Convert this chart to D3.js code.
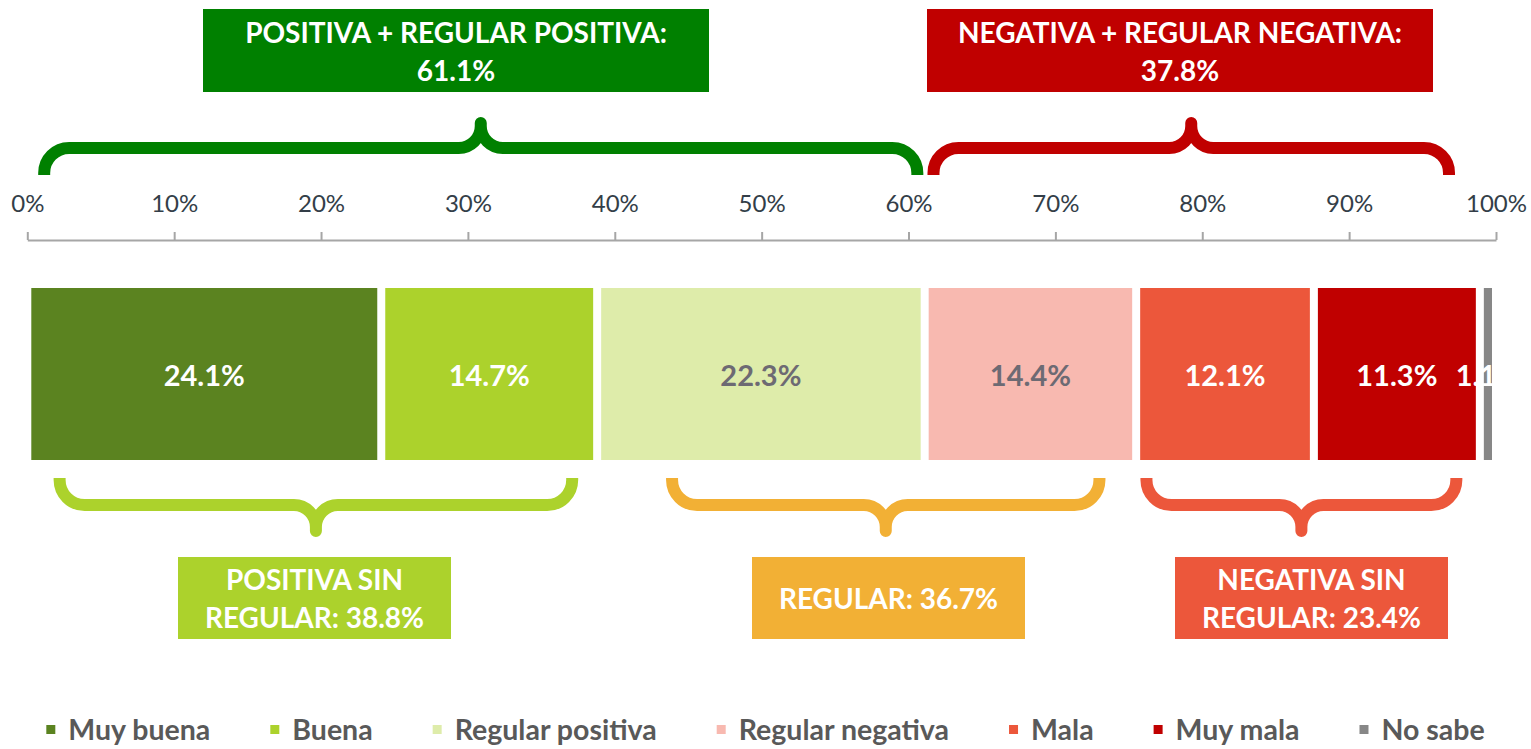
<!DOCTYPE html>
<html>
<head>
<meta charset="utf-8">
<script src="https://cdn.jsdelivr.net/npm/d3@7"></script>
<style>
  html, body { margin: 0; padding: 0; background: #fff; }
  svg { display: block; font-family: "Lato", "Open Sans", sans-serif; }
</style>
</head>
<body>
<svg id="chart" width="1531" height="749"></svg>
<script>
// ---------------- DATA ----------------
const categories = ["Muy buena", "Buena", "Regular positiva", "Regular negativa", "Mala", "Muy mala", "No sabe"];
const values = [24.1, 14.7, 22.3, 14.4, 12.1, 11.3, 1.1];
const tickValues = [0, 10, 20, 30, 40, 50, 60, 70, 80, 90, 100];
const tickLabels = ["0%", "10%", "20%", "30%", "40%", "50%", "60%", "70%", "80%", "90%", "100%"];
const topGroupTitles = ["POSITIVA + REGULAR POSITIVA:", "NEGATIVA + REGULAR NEGATIVA:"];
const topGroupMembers = [[0, 1, 2], [3, 4, 5]];
const bottomGroupTitles = [["POSITIVA SIN", "REGULAR: "], ["REGULAR: "], ["NEGATIVA SIN", "REGULAR: "]];
const bottomGroupMembers = [[0, 1], [2, 3], [4, 5]];

// ---------------- STYLE / LAYOUT ----------------
const barColors = ["#5b8320", "#acd22c", "#deecaa", "#f8b9b0", "#ec573b", "#c00000", "#878787"];
const labelColors = ["#ffffff", "#ffffff", "#6d6a73", "#6d6a73", "#ffffff", "#ffffff", "#ffffff"];
const topColors = ["#008000", "#c00000"];
const bottomColors = ["#acd22c", "#f2b035", "#ec573b"];
// brace spans expressed in axis units (percent)
const topBraceSpans = [[1.15, 60.6], [61.7, 96.8]];
const bottomBraceSpans = [[2.2, 37.1], [43.9, 73.0], [76.2, 97.3]];
const topBoxX = [[203, 709], [927, 1433]];
const bottomBoxX = [[178, 451], [752, 1025], [1175, 1448]];

const W = 1531, H = 749;
const svg = d3.select("#chart");
const fmt = d3.format(".1f");

const x = d3.scaleLinear().domain([0, 100]).range([27.3, 1496]);

// ---------------- AXIS ----------------
const axisY = 240;
const axisG = svg.append("g").attr("transform", `translate(0,${axisY})`)
  .call(d3.axisTop(x).tickValues(tickValues).tickSize(8).tickSizeOuter(0)
        .tickFormat((d, i) => tickLabels[i]));
axisG.select(".domain").attr("stroke", "#a6a6a6").attr("stroke-width", 2);
axisG.selectAll(".tick line").attr("stroke", "#a6a6a6").attr("stroke-width", 2);
axisG.selectAll(".tick text")
  .attr("font-family", "Lato").attr("font-size", 24).attr("fill", "#333e48")
  .attr("y", -28).attr("dy", 0);

// ---------------- BARS ----------------
const stack = [];
let acc = 0;
values.forEach((v, i) => { stack.push({ cat: categories[i], v, x0: acc, x1: acc + v, i }); acc += v; });

const barTop = 288, barBottom = 460, inset = 4;
svg.append("g").selectAll("rect").data(stack).join("rect")
  .attr("x", d => x(d.x0) + inset)
  .attr("y", barTop)
  .attr("width", d => Math.max(0, x(d.x1) - x(d.x0) - 2 * inset))
  .attr("height", barBottom - barTop)
  .attr("fill", d => barColors[d.i]);

svg.append("defs").append("clipPath").attr("id", "plotClip")
  .append("rect").attr("x", 0).attr("y", 0).attr("width", x(100) - inset).attr("height", H);

svg.append("g").attr("clip-path", "url(#plotClip)")
  .selectAll("text").data(stack).join("text")
  .attr("x", d => (x(d.x0) + x(d.x1)) / 2)
  .attr("y", 386)
  .attr("text-anchor", "middle")
  .attr("font-family", "Lato").attr("font-weight", 700).attr("font-size", 29)
  .attr("fill", d => labelColors[d.i])
  .text(d => fmt(d.v) + "%");

// ---------------- BRACES ----------------
function bracePath(x0, x1, yEnd, yH, yTip, r, rt) {
  const dE = Math.sign(yEnd - yH), dT = Math.sign(yTip - yH);
  const sE = dE > 0 ? 1 : 0, sT = dT > 0 ? 1 : 0;
  const xc = (x0 + x1) / 2;
  return [
    `M${x0},${yEnd}`,
    `L${x0},${yH + dE * r}`,
    `A${r},${r} 0 0 ${sE} ${x0 + r},${yH}`,
    `L${xc - rt},${yH}`,
    `A${rt},${rt} 0 0 ${sT} ${xc},${yH + dT * rt}`,
    `L${xc},${yTip}`,
    `L${xc},${yH + dT * rt}`,
    `A${rt},${rt} 0 0 ${sT} ${xc + rt},${yH}`,
    `L${x1 - r},${yH}`,
    `A${r},${r} 0 0 ${sE} ${x1},${yH + dE * r}`,
    `L${x1},${yEnd}`
  ].join(" ");
}

const braceG = svg.append("g").attr("fill", "none").attr("stroke-width", 12)
  .attr("stroke-linejoin", "round").attr("stroke-linecap", "butt");

braceG.selectAll("path.top").data(topBraceSpans).join("path").attr("class", "top")
  .attr("d", d => bracePath(x(d[0]), x(d[1]), 175, 148, 123, 25, 22))
  .attr("stroke", (d, i) => topColors[i]);

braceG.selectAll("path.bot").data(bottomBraceSpans).join("path").attr("class", "bot")
  .attr("d", d => bracePath(x(d[0]), x(d[1]), 478, 505, 531, 25, 22))
  .attr("stroke", (d, i) => bottomColors[i]);

// ---------------- TOP BOXES ----------------
const topG = svg.append("g");
topGroupTitles.forEach((t, i) => {
  const total = d3.sum(topGroupMembers[i], k => values[k]);
  const [bx0, bx1] = topBoxX[i];
  const cx = (bx0 + bx1) / 2;
  topG.append("rect").attr("x", bx0).attr("y", 9).attr("width", bx1 - bx0).attr("height", 83)
    .attr("fill", topColors[i]);
  const txt = topG.append("text").attr("text-anchor", "middle")
    .attr("font-family", "Lato").attr("font-weight", 700).attr("font-size", 28).attr("fill", "#fff");
  txt.append("tspan").attr("x", cx).attr("y", 43).text(t);
  txt.append("tspan").attr("x", cx).attr("y", 81).text(fmt(total) + "%");
});

// ---------------- BOTTOM BOXES ----------------
const botG = svg.append("g");
bottomGroupTitles.forEach((lines, i) => {
  const total = d3.sum(bottomGroupMembers[i], k => values[k]);
  const [bx0, bx1] = bottomBoxX[i];
  const cx = (bx0 + bx1) / 2;
  botG.append("rect").attr("x", bx0).attr("y", 557).attr("width", bx1 - bx0).attr("height", 82)
    .attr("fill", bottomColors[i]);
  const txt = botG.append("text").attr("text-anchor", "middle")
    .attr("font-family", "Lato").attr("font-weight", 700).attr("font-size", 28).attr("fill", "#fff");
  const full = lines.slice();
  full[full.length - 1] = full[full.length - 1] + fmt(total) + "%";
  const ys = full.length === 2 ? [590, 628] : [609];
  full.forEach((l, j) => txt.append("tspan").attr("x", cx).attr("y", ys[j]).text(l));
});

// ---------------- LEGEND ----------------
const legG = svg.append("g");
const sq = 9, gapSq = 13, gapItem = 60, legBase = 740;
const items = categories.map((c, i) => {
  const g = legG.append("g");
  g.append("rect").attr("x", 0).attr("y", legBase - 15).attr("width", sq).attr("height", sq)
    .attr("fill", barColors[i]);
  const t = g.append("text").attr("x", sq + gapSq).attr("y", legBase)
    .attr("font-family", "Lato").attr("font-weight", 700).attr("font-size", 28.5)
    .attr("fill", "#595959").text(c);
  const w = sq + gapSq + t.node().getComputedTextLength();
  return { g, w };
});
const totalW = d3.sum(items, d => d.w) + gapItem * (items.length - 1);
let lx = W / 2 - totalW / 2;
items.forEach(it => { it.g.attr("transform", `translate(${lx},0)`); lx += it.w + gapItem; });
</script>
</body>
</html>
